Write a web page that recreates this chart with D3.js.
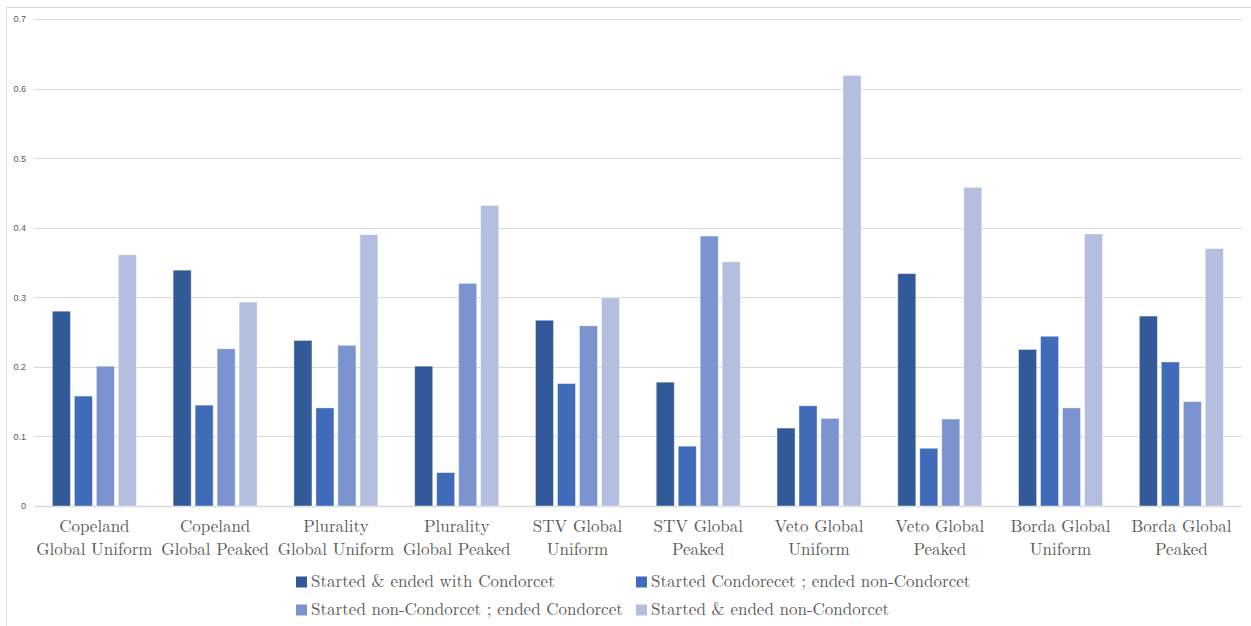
<!DOCTYPE html>
<html>
<head>
<meta charset="utf-8">
<script src="https://cdn.jsdelivr.net/npm/d3@7"></script>
<style>
  html, body { margin: 0; padding: 0; background: #fff; }
  svg { display: block; }
</style>
</head>
<body>
<svg id="chart" width="1251" height="626"></svg>
<script>
const categories = [
  ["Copeland", "Global Uniform"],
  ["Copeland", "Global Peaked"],
  ["Plurality", "Global Uniform"],
  ["Plurality", "Global Peaked"],
  ["STV Global", "Uniform"],
  ["STV Global", "Peaked"],
  ["Veto Global", "Uniform"],
  ["Veto Global", "Peaked"],
  ["Borda Global", "Uniform"],
  ["Borda Global", "Peaked"]
];
const seriesNames = [
  "Started & ended with Condorcet",
  "Started Condorecet ; ended non-Condorcet",
  "Started non-Condorcet ; ended Condorcet",
  "Started & ended non-Condorcet"
];
const s1 = [0.280, 0.339, 0.238, 0.201, 0.267, 0.178, 0.112, 0.334, 0.225, 0.273];
const s2 = [0.158, 0.145, 0.141, 0.048, 0.176, 0.086, 0.144, 0.083, 0.244, 0.207];
const s3 = [0.201, 0.226, 0.231, 0.320, 0.259, 0.388, 0.126, 0.125, 0.141, 0.150];
const s4 = [0.361, 0.293, 0.390, 0.432, 0.299, 0.351, 0.619, 0.458, 0.391, 0.370];
const seriesValues = [s1, s2, s3, s4];
const yTicks = [0, 0.1, 0.2, 0.3, 0.4, 0.5, 0.6, 0.7];
const colors = ["#325998", "#406BB9", "#7B93CE", "#B4BFDF"];

const svg = d3.select("#chart");
const plotLeft = 34, plotRight = 1241.7, plotTop = 19, plotBottom = 506;

// frame
svg.append("line").attr("x1", 6.5).attr("x2", 1251).attr("y1", 7.5).attr("y2", 7.5)
  .attr("stroke", "#d9d9d9").attr("stroke-width", 1);
svg.append("line").attr("x1", 6.5).attr("x2", 6.5).attr("y1", 7.5).attr("y2", 626)
  .attr("stroke", "#d9d9d9").attr("stroke-width", 1);

const y = d3.scaleLinear().domain([0, 0.7]).range([plotBottom, plotTop]);
const x0 = d3.scaleBand().domain(d3.range(categories.length)).range([plotLeft, plotRight])
  .paddingInner(0.3045).paddingOuter(0.152);
const x1 = d3.scaleBand().domain(d3.range(seriesNames.length)).range([0, x0.bandwidth()])
  .paddingInner(0.18).paddingOuter(0);

// gridlines
svg.append("g").selectAll("line").data(yTicks).join("line")
  .attr("x1", plotLeft).attr("x2", plotRight)
  .attr("y1", d => Math.round(y(d)) + 0.5).attr("y2", d => Math.round(y(d)) + 0.5)
  .attr("stroke", "#d9d9d9").attr("stroke-width", d => d === 0 ? 1.3 : 1);

// y axis labels
const yAxis = d3.axisLeft(y).tickValues(yTicks).tickSize(0).tickPadding(0)
  .tickFormat(d => d === 0 ? "0" : d3.format(".1f")(d));
const ya = svg.append("g").attr("transform", `translate(26,0)`).call(yAxis);
ya.select(".domain").remove();
ya.selectAll("text").attr("fill", "#595959").style("font-family", "'Liberation Sans', Arial, sans-serif").style("font-size", "9px");

// bars
const groups = svg.append("g").selectAll("g").data(categories).join("g")
  .attr("transform", (d, i) => `translate(${x0(i)},0)`);
groups.each(function(c, i) {
  d3.select(this).selectAll("rect").data(seriesValues.map((s, k) => ({k, v: s[i]}))).join("rect")
    .attr("x", d => x1(d.k))
    .attr("width", x1.bandwidth())
    .attr("y", d => y(d.v))
    .attr("height", d => y(0) - y(d.v))
    .attr("fill", d => colors[d.k])
    .attr("stroke", "#ffffff").attr("stroke-opacity", 0.5).attr("stroke-width", 0.8);
});

// category labels
const labelFont = "'Latin Modern Roman', 'CMU Serif', 'Liberation Serif', 'Times New Roman', serif";
const lab = svg.append("g").selectAll("text").data(categories).join("text")
  .attr("x", (d, i) => x0(i) + x0.bandwidth() / 2)
  .attr("text-anchor", "middle")
  .attr("fill", "#595959")
  .style("font-family", labelFont).style("font-size", "17px");
lab.selectAll("tspan").data(d => d).join("tspan")
  .attr("x", function() { return d3.select(this.parentNode).attr("x"); })
  .attr("y", (d, j) => 532 + j * 22.5)
  .text(d => d);

// legend
const legendPos = [[296, 576.5], [636, 576.5], [296, 604.5], [636, 604.5]];
const lg = svg.append("g").selectAll("g").data(seriesNames).join("g")
  .attr("transform", (d, i) => `translate(${legendPos[i][0]},${legendPos[i][1]})`);
lg.append("rect").attr("width", 11).attr("height", 11).attr("fill", (d, i) => colors[i]);
lg.append("text").attr("x", 15).attr("y", 10)
  .attr("fill", "#595959")
  .style("font-family", labelFont).style("font-size", "17px")
  .text(d => d);
</script>
</body>
</html>
